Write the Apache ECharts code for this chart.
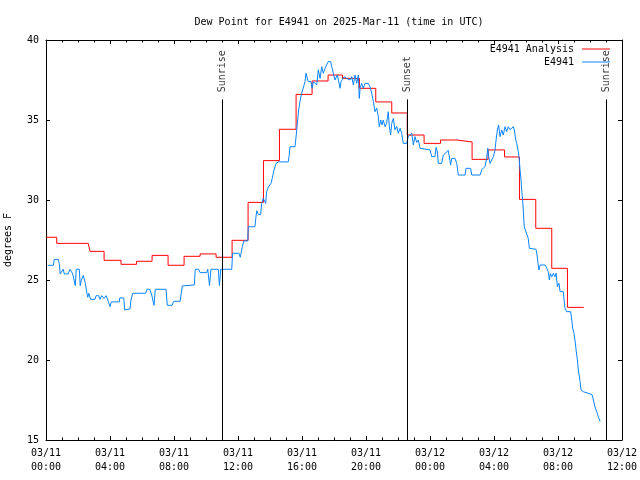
<!DOCTYPE html>
<html><head><meta charset="utf-8">
<script src="https://cdn.jsdelivr.net/npm/echarts@6/dist/echarts.min.js"></script>
<style>html,body{margin:0;padding:0;background:#fff}#c{width:640px;height:480px}</style>
</head><body><div id="c"></div>
<script>
const titleText = 'Dew Point for E4941 on 2025-Mar-11 (time in UTC)';
const xTickLabels = ['03/11\n00:00','03/11\n04:00','03/11\n08:00','03/11\n12:00','03/11\n16:00','03/11\n20:00','03/12\n00:00','03/12\n04:00','03/12\n08:00','03/12\n12:00'];
// hours since 03/11 00:00 UTC
const analysisHours = [0,0.67,2.64,2.75,3.63,4.69,5.66,6.63,7.63,8.63,9.63,10.63,11.63,12.63,13.59,14.59,15.63,16.63,17.63,18.53,19.59,20.61,21.61,22.58,23.63,24.66,25.66,26.63,27.63,28.66,29.59,30.61,31.61,32.59,33.61];
const analysisValues = [27.67,27.29,27.25,26.79,26.23,25.98,26.17,26.54,25.92,26.48,26.63,26.42,27.48,29.85,32.46,34.42,36.6,37.44,37.81,37.6,36.98,36.13,35.44,34.06,33.54,33.75,33.63,32.54,33.13,32.69,30.04,28.23,25.73,23.29,23.29];
const obsHours = [0.11,0.46,0.52,0.77,0.83,0.89,0.98,1.08,1.14,1.39,1.5,1.61,1.67,1.77,1.83,1.89,2.08,2.14,2.21,2.33,2.42,2.46,2.54,2.61,2.67,2.79,3.06,3.13,3.29,3.38,3.48,3.63,3.75,3.83,3.92,4.0,4.08,4.58,4.61,4.86,4.92,4.98,5.25,5.31,5.42,6.23,6.31,6.48,6.61,6.75,6.83,7.5,7.58,7.88,7.98,8.38,8.52,8.63,9.27,9.33,9.54,9.63,10.04,10.11,10.22,10.31,10.77,10.84,10.92,11.61,11.66,12.06,12.14,12.21,12.27,12.36,12.61,12.64,13.06,13.11,13.17,13.27,13.42,13.48,13.58,13.73,13.79,13.89,14.06,14.14,14.25,14.38,14.52,15.14,15.19,15.25,15.56,15.63,15.67,15.73,15.79,15.88,15.98,16.08,16.19,16.25,16.29,16.39,16.56,16.63,16.71,16.81,16.92,17.02,17.13,17.23,17.33,17.44,17.54,17.64,17.79,17.86,17.96,18.06,18.17,18.21,18.27,18.38,18.44,18.54,18.63,18.79,18.89,19.0,19.11,19.21,19.31,19.42,19.52,19.58,19.63,19.73,19.83,19.94,20.14,20.25,20.36,20.46,20.56,20.67,20.77,20.83,20.92,21.0,21.08,21.19,21.29,21.39,21.46,21.54,21.61,21.71,21.81,21.92,22.02,22.13,22.23,22.33,22.54,22.64,22.75,22.86,22.96,23.06,23.17,23.27,23.38,23.44,24.0,24.11,24.31,24.38,24.46,24.52,24.73,24.83,25.14,25.25,25.29,25.36,25.56,25.67,25.77,26.19,26.25,26.54,26.61,27.13,27.23,27.44,27.54,27.61,27.67,27.75,27.86,27.96,28.06,28.13,28.21,28.29,28.38,28.48,28.58,28.69,28.79,28.89,29.0,29.11,29.21,29.27,29.36,29.42,29.52,29.56,29.63,29.69,29.73,29.79,29.83,29.89,29.98,30.14,30.21,30.63,30.69,30.75,30.81,30.89,31.19,31.27,31.39,31.46,31.52,31.61,31.71,31.81,31.88,31.96,32.06,32.13,32.33,32.38,32.44,32.54,32.79,32.86,32.92,33.0,33.06,33.13,33.21,33.27,33.38,33.44,33.58,34.0,34.14,34.21,34.31,34.42,34.52,34.63];
const obsValues = [25.92,25.92,26.29,26.29,26.04,25.38,25.38,25.67,25.38,25.38,25.67,25.67,25.38,25.38,24.65,25.67,25.67,24.65,25.0,25.29,25.29,24.79,24.27,23.92,24.17,23.79,23.79,24.02,24.02,23.79,24.02,23.85,24.02,23.85,23.58,23.33,23.63,23.63,23.88,23.88,23.13,23.19,23.19,23.75,24.17,24.17,24.42,24.42,24.06,23.42,24.42,24.42,23.42,23.42,23.67,23.67,24.63,24.69,24.69,25.67,25.67,25.46,25.46,25.67,24.65,25.67,25.67,24.65,25.67,25.67,26.67,26.67,26.42,26.42,27.08,27.44,27.44,28.33,28.33,28.85,29.33,29.1,29.1,29.79,30.1,29.79,30.52,30.79,31.04,31.35,31.88,32.29,32.38,32.38,32.71,33.33,33.33,33.96,34.38,35.0,35.63,36.2,36.67,36.77,37.4,37.92,37.92,37.4,37.4,36.98,37.4,37.4,37.19,38.13,37.6,38.33,37.92,38.23,38.23,38.65,38.65,38.33,37.92,37.5,37.5,37.81,37.81,36.98,37.4,37.5,37.71,37.6,37.65,37.5,37.71,37.19,37.81,37.3,37.81,36.35,36.98,37.29,36.98,37.29,37.29,37.08,36.67,36.15,35.52,35.75,35.2,34.58,35.0,34.69,35.0,34.58,34.79,35.52,34.58,34.06,34.79,35.1,34.38,34.6,34.17,34.48,34.17,33.54,33.54,33.96,33.9,34.17,33.44,33.96,33.6,33.75,33.23,33.13,33.13,32.71,32.71,33.29,33.0,32.29,32.29,32.8,33.1,32.45,32.19,32.6,32.6,32.29,31.56,31.56,31.98,31.98,31.56,31.56,31.88,32.1,32.6,33.23,32.71,32.29,32.29,32.71,33.1,33.75,34.38,34.69,33.96,34.38,34.06,34.58,34.27,34.58,34.4,34.4,34.58,34.38,33.75,33.54,33.02,32.71,31.88,31.25,30.63,30.0,29.38,28.33,28.23,27.6,26.98,26.92,26.56,26.04,25.63,25.94,25.94,25.8,25.52,25.0,25.4,25.2,25.42,25.2,25.42,24.58,24.8,24.27,24.27,23.75,23.23,23.02,23.02,22.5,21.98,21.67,21.25,20.63,20.0,19.38,18.65,18.13,18.02,17.88,17.81,17.5,17.08,16.77,16.46,16.15];
const sunHours = [11.02, 22.58, 35.02];
const sunNames = ['Sunrise', 'Sunset', 'Sunrise'];
const sunLineTop = 36.29;

const FONT = 'DejaVu Sans Mono';
const chart = echarts.init(document.getElementById('c'), null, {renderer: 'canvas'});
const txt = {fontFamily: FONT, fontSize: 10, color: '#000'};
const xCommon = {
  type: 'value', min: 0, max: 36, interval: 4,
  axisLine: {show: true, onZero: false, lineStyle: {color: '#000', width: 1}},
  axisTick: {show: true, inside: true, length: 4, lineStyle: {color: '#000'}},
  minorTick: {show: true, splitNumber: 4, length: 2.5, lineStyle: {color: '#000'}},
  splitLine: {show: false}
};
const yCommon = {
  type: 'value', min: 15, max: 40, interval: 5,
  axisLine: {show: true, onZero: false, lineStyle: {color: '#000', width: 1}},
  axisTick: {show: true, inside: true, length: 4, lineStyle: {color: '#000'}},
  splitLine: {show: false}
};
chart.setOption({
  animation: false,
  backgroundColor: '#fff',
  title: {text: titleText, left: 334, top: 12, textAlign: 'center',
    textStyle: {fontFamily: FONT, fontSize: 10, fontWeight: 'normal', color: '#000'}},
  grid: {left: 46, right: 18, top: 40, bottom: 40, containLabel: false, outerBoundsMode: 'none'},
  legend: [
    {data: ['E4941 Analysis'], right: 30, top: 44, padding: 0, align: 'right', icon: 'rect', itemWidth: 28, itemHeight: 1,
      textStyle: Object.assign({padding: [0, 3, 0, 0]}, txt)},
    {data: ['E4941'], right: 30, top: 57, padding: 0, align: 'right', icon: 'rect', itemWidth: 28, itemHeight: 1,
      textStyle: Object.assign({padding: [0, 3, 0, 0]}, txt)}
  ],
  xAxis: [
    Object.assign({position: 'bottom', axisLabel: Object.assign({margin: 6, lineHeight: 14, formatter: v => xTickLabels[Math.round(v / 4)]}, txt)}, xCommon),
    Object.assign({position: 'top', axisLabel: {show: false}}, xCommon)
  ],
  yAxis: [
    Object.assign({position: 'left', name: 'degrees F', nameLocation: 'middle', nameGap: 33, nameRotate: 90,
      nameTextStyle: txt, axisLabel: Object.assign({margin: 7}, txt)}, yCommon),
    Object.assign({position: 'right', axisLabel: {show: false}}, yCommon)
  ],
  series: [
    {name: 'E4941 Analysis', type: 'line', step: 'end', showSymbol: false, z: 3,
      data: analysisHours.map((h, i) => [h, analysisValues[i]]),
      lineStyle: {color: '#ff0000', width: 1}, itemStyle: {color: '#ff0000'}},
    {name: 'E4941', type: 'line', showSymbol: false, z: 4,
      data: obsHours.map((h, i) => [h, obsValues[i]]),
      lineStyle: {color: '#0a84ff', width: 1}, itemStyle: {color: '#0a84ff'}},
    {name: 'sun', type: 'scatter', symbolSize: 0, z: 5,
      data: sunHours.map((h, i) => ({name: sunNames[i], value: [h, sunLineTop]})),
      label: {show: true, formatter: p => p.name, position: 'top', distance: 7, rotate: 90, align: 'left', verticalAlign: 'middle',
        fontFamily: FONT, fontSize: 10, color: '#000'},
      markLine: {silent: true, symbol: 'none', label: {show: false},
        lineStyle: {color: '#000', width: 1, type: 'solid'},
        data: sunHours.map(h => [{coord: [h, 15]}, {coord: [h, sunLineTop]}])}}
  ]
});
</script></body></html>
